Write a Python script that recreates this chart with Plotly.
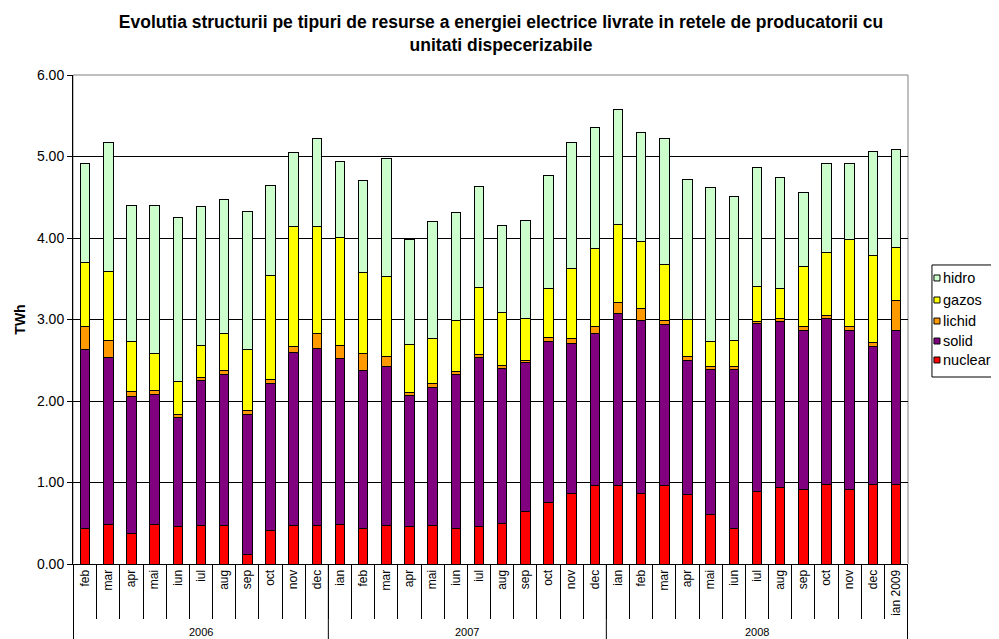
import plotly.graph_objects as go

# months and year groups
months = ["feb", "mar", "apr", "mai", "iun", "iul", "aug", "sep", "oct", "nov", "dec",
          "ian", "feb", "mar", "apr", "mai", "iun", "iul", "aug", "sep", "oct", "nov", "dec",
          "ian", "feb", "mar", "apr", "mai", "iun", "iul", "aug", "sep", "oct", "nov", "dec",
          "ian 2009"]
years = ["2006"] * 11 + ["2007"] * 12 + ["2008"] * 13

# TWh per resource type
nuclear = [0.44, 0.48, 0.37, 0.48, 0.46, 0.47, 0.47, 0.12, 0.41, 0.47, 0.47,
           0.48, 0.44, 0.47, 0.46, 0.47, 0.44, 0.46, 0.50, 0.64, 0.76, 0.87, 0.96,
           0.96, 0.86, 0.96, 0.85, 0.61, 0.44, 0.89, 0.94, 0.92, 0.97, 0.92, 0.97,
           0.97]
solid = [2.19, 2.05, 1.69, 1.60, 1.34, 1.78, 1.86, 1.72, 1.80, 2.12, 2.18,
         2.04, 1.93, 1.95, 1.61, 1.69, 1.88, 2.07, 1.90, 1.83, 1.97, 1.84, 1.87,
         2.11, 2.13, 1.98, 1.65, 1.78, 1.95, 2.06, 2.04, 1.94, 2.04, 1.94, 1.70,
         1.89]
lichid = [0.29, 0.21, 0.06, 0.05, 0.04, 0.04, 0.04, 0.04, 0.05, 0.08, 0.18,
          0.16, 0.21, 0.13, 0.04, 0.06, 0.04, 0.04, 0.04, 0.03, 0.05, 0.06, 0.08,
          0.14, 0.14, 0.05, 0.05, 0.03, 0.03, 0.03, 0.03, 0.05, 0.04, 0.05, 0.05,
          0.37]
gazos = [0.78, 0.85, 0.61, 0.45, 0.40, 0.39, 0.46, 0.75, 1.28, 1.47, 1.31,
         1.33, 1.00, 0.98, 0.58, 0.55, 0.63, 0.82, 0.65, 0.51, 0.60, 0.85, 0.96,
         0.95, 0.83, 0.68, 0.45, 0.31, 0.32, 0.42, 0.37, 0.74, 0.77, 1.07, 1.06,
         0.65]
hidro = [1.21, 1.58, 1.67, 1.82, 2.01, 1.71, 1.64, 1.69, 1.10, 0.91, 1.08,
         0.93, 1.13, 1.45, 1.29, 1.43, 1.32, 1.24, 1.06, 1.21, 1.39, 1.55, 1.49,
         1.42, 1.34, 1.55, 1.72, 1.89, 1.77, 1.47, 1.36, 0.91, 1.10, 0.94, 1.28,
         1.20]

series = [
    ("nuclear", nuclear, "#FF0000"),
    ("solid", solid, "#800080"),
    ("lichid", lichid, "#FF9900"),
    ("gazos", gazos, "#FFFF00"),
    ("hidro", hidro, "#CCFFCC"),
]

# unique category keys so repeated month names keep their order
keys = [y + "-" + m for y, m in zip(years, months)]

fig = go.Figure()
for name, vals, color in series:
    fig.add_trace(go.Bar(
        x=keys, y=vals, name=name, showlegend=False,
        marker=dict(color=color, line=dict(color="black", width=1)),
    ))

# gray frame on top/right of the plot area
fig.add_shape(type="rect", xref="paper", yref="paper", x0=0, x1=1, y0=0, y1=1,
              line=dict(color="gray", width=1), layer="below")

# year group labels and dividers below the month labels
group_names = []
for y in years:
    if y not in group_names:
        group_names.append(y)
start = 0
for g in group_names:
    n = years.count(g)
    fig.add_annotation(x=start + (n - 1) / 2, y=-0.139, xref="x", yref="paper",
                       text=g, showarrow=False, yanchor="middle",
                       font=dict(size=11))
    fig.add_shape(type="line", xref="x", yref="paper",
                  x0=start - 0.5, x1=start - 0.5, y0=0, y1=-0.16,
                  line=dict(color="black", width=1))
    start += n
fig.add_shape(type="line", xref="x", yref="paper",
              x0=start - 0.5, x1=start - 0.5, y0=0, y1=-0.16,
              line=dict(color="black", width=1))

# legend box drawn by hand (hidro on top)
fig.add_shape(type="rect", xref="paper", yref="paper",
              x0=1.0287, x1=1.1078, y0=0.3824, y1=0.6115,
              line=dict(color="black", width=1), fillcolor="white")
item_y = [0.5849, 0.5399, 0.4969, 0.4560, 0.4172]
for (name, vals, color), yy in zip(series[::-1], item_y):
    fig.add_shape(type="rect", xref="paper", yref="paper",
                  x0=1.0311, x1=1.0383, y0=yy - 0.0061, y1=yy + 0.0061,
                  line=dict(color="black", width=1), fillcolor=color)
    fig.add_annotation(x=1.0395, y=yy, xref="paper", yref="paper",
                       text=name, showarrow=False, xanchor="left", yanchor="middle",
                       font=dict(size=14.5))

fig.update_layout(
    barmode="stack",
    bargap=0.59,
    width=991, height=631,
    paper_bgcolor="white", plot_bgcolor="white",
    font=dict(family="Liberation Sans, Arial, sans-serif", color="black"),
    margin=dict(l=65, r=91, t=67, b=75, autoexpand=False),
    title=dict(
        text="<b>Evolutia structurii pe tipuri de resurse a energiei electrice livrate in retele de producatorii cu<br>unitati dispecerizabile</b>",
        x=0.4975, xanchor="center", y=0.968, yanchor="top",
        font=dict(size=17.5),
    ),
    showlegend=False,
)

fig.update_yaxes(
    range=[0, 6], dtick=1, tickformat=".2f",
    showgrid=True, gridcolor="black", gridwidth=1,
    showline=True, linecolor="black",
    ticks="outside", ticklen=5, tickcolor="black",
    tickfont=dict(size=14),
    title=dict(text="<b>TWh</b>", font=dict(size=14), standoff=8),
)
fig.update_xaxes(
    type="category", tickmode="array", tickvals=keys, ticktext=months,
    showline=True, linecolor="black",
    ticks="outside", tickson="boundaries", ticklen=54, tickcolor="black",
    tickangle=-90, tickfont=dict(size=12),
)

fig.write_html("out.html")
